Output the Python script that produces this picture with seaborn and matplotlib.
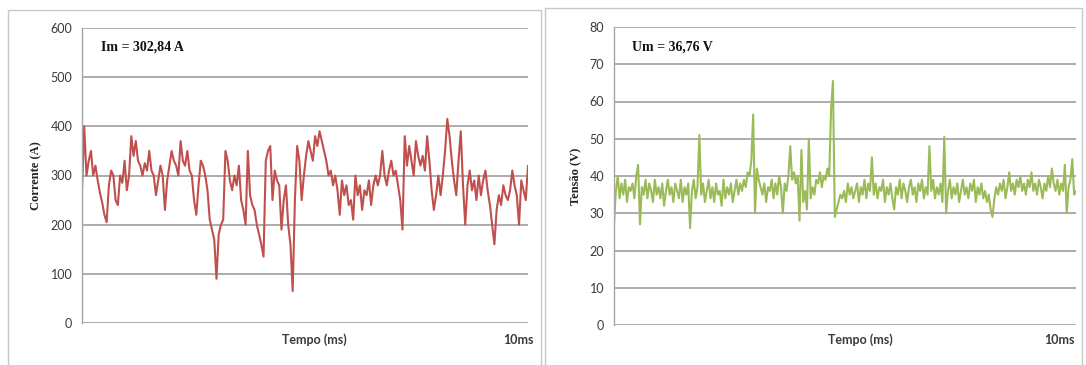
import numpy as np
import pandas as pd
import matplotlib
matplotlib.use("Agg")
import matplotlib.pyplot as plt
import seaborn as sns
from matplotlib.patches import Rectangle

# ---------------- data ----------------
corrente = [
    270, 400, 300, 330, 350, 300, 320, 290, 265, 245,
    220, 205, 280, 310, 300, 250, 240, 300, 285, 330,
    270, 300, 380, 340, 370, 330, 320, 300, 325, 310,
    350, 310, 300, 260, 290, 320, 300, 230, 290, 320,
    350, 330, 320, 300, 370, 330, 320, 350, 310, 300,
    250, 220, 280, 330, 320, 300, 270, 210, 190, 170,
    90, 180, 200, 210, 350, 330, 290, 270, 300, 280,
    320, 250, 230, 200, 350, 260, 240, 230, 200, 180,
    160, 135, 330, 350, 360, 250, 310, 290, 280, 190,
    250, 280, 200, 160, 65, 250, 360, 330, 250, 300,
    340, 370, 350, 330, 380, 360, 390, 370, 350, 330,
    300, 310, 280, 300, 270, 220, 290, 260, 280, 240,
    250, 210, 300, 260, 280, 230, 270, 260, 290, 240,
    280, 300, 280, 300, 350, 300, 280, 310, 330, 300,
    310, 280, 250, 190, 380, 320, 360, 330, 300, 370,
    340, 320, 340, 310, 380, 330, 270, 230, 260, 300,
    260, 300, 350, 415, 380, 330, 290, 260, 330, 390,
    280, 200, 280, 310, 270, 290, 250, 300, 260, 290,
    310, 270, 240, 200, 160, 230, 260, 240, 280, 260,
    250, 270, 310, 280, 260, 200, 290, 270, 250, 320,
]

tensao = [
    27, 36, 40, 34, 38, 35, 39, 33, 37, 36,
    38, 34, 40, 43, 27, 37, 35, 39, 34, 38,
    36, 33, 39, 35, 37, 34, 38, 32, 36, 39,
    35, 37, 33, 38, 36, 34, 39, 33, 37, 35,
    38, 26, 36, 39, 34, 37, 51, 35, 38, 33,
    36, 39, 34, 37, 33, 38, 35, 36, 32, 39,
    34, 37, 35, 38, 33, 36, 39, 35, 38, 36,
    39, 37, 41, 40, 44, 56.5, 30, 42, 39, 37,
    35, 38, 33, 37, 36, 39, 34, 38, 35, 40,
    37, 30, 38, 36, 40, 48, 39, 41, 38, 40,
    28, 47, 33, 36, 31, 50, 34, 37, 35, 39,
    38, 41, 37, 40, 39, 42, 40, 58, 65.5, 29,
    31, 33, 35, 34, 36, 33, 38, 35, 37, 34,
    36, 38, 33, 37, 35, 39, 34, 38, 36, 45,
    35, 38, 34, 37, 36, 39, 33, 37, 35, 38,
    34, 31, 37, 35, 39, 34, 38, 36, 33, 37,
    39, 35, 37, 33, 38, 36, 39, 34, 37, 35,
    48, 36, 39, 34, 37, 35, 38, 33, 50.5, 30,
    36, 39, 34, 37, 35, 38, 33, 36, 39, 35,
    37, 34, 38, 36, 39, 33, 37, 35, 38, 34,
    36, 33, 35, 31, 29, 34, 37, 35, 38, 36,
    39, 34, 37, 41, 36, 38, 35, 39, 37, 40,
    36, 38, 35, 39, 37, 41, 36, 38, 35, 39,
    37, 34, 38, 36, 40, 37, 42, 38, 36, 39,
    35, 38, 36, 43, 30, 37, 39, 44.5, 35, 36,
]

t_max_ms = 10
yticks_i = [0, 100, 200, 300, 400, 500, 600]
yticks_u = [0, 10, 20, 30, 40, 50, 60, 70, 80]
label_i = "Im = 302,84 A"
label_u = "Um = 36,76 V"

df_i = pd.DataFrame({"t": np.linspace(0, t_max_ms, len(corrente)), "v": corrente})
df_u = pd.DataFrame({"t": np.linspace(0, t_max_ms, len(tensao)), "v": tensao})

# ---------------- figure ----------------
sns.set_style("white")
plt.rcParams["font.family"] = ["Lato", "DejaVu Sans"]

W, H = 1086, 365
fig = plt.figure(figsize=(W / 100, H / 100), dpi=100)

# panel frames
for (x0, x1, y0) in [(8, 541, 10), (545, 1082, 8)]:
    fig.patches.append(Rectangle((x0 / W, -0.05), (x1 - x0) / W, 1 - y0 / H + 0.05,
                                 transform=fig.transFigure, fill=False,
                                 edgecolor="#c8c8c8", linewidth=1.0))

grid_c = "#a6a6a6"
txt_c = "#3a3a3a"


def setup(ax, df, color, yticks, ylabel, note, note_x, xlab_x, tenms_x):
    sns.lineplot(data=df, x="t", y="v", ax=ax, color=color, linewidth=1.5)
    ax.set_xlim(0, t_max_ms)
    ax.set_ylim(yticks[0], yticks[-1])
    ax.set_yticks(yticks)
    ax.set_xticks([])
    ax.grid(False)
    for y in yticks:
        ax.axhline(y, color=grid_c, linewidth=1.3, zorder=0)
    for s in ["top", "right", "bottom"]:
        ax.spines[s].set_visible(False)
    ax.spines["left"].set_color(grid_c)
    ax.spines["left"].set_linewidth(1.0)
    ax.tick_params(axis="y", length=4, width=1.0, color=grid_c,
                   labelsize=9, labelcolor=txt_c, pad=3)
    ax.set_xlabel("")
    ax.set_ylabel(ylabel, family="Liberation Serif", fontweight="bold",
                  fontsize=9, color="#222222", labelpad=6)
    fig.text(note_x / W, 1 - 47 / H, note, family="Liberation Serif",
             fontweight="bold", fontsize=10, color="#111111",
             ha="left", va="center")
    fig.text(xlab_x / W, 1 - 340 / H, "Tempo (ms)", fontsize=9,
             fontweight="bold", color=txt_c, ha="center", va="center")
    fig.text(tenms_x / W, 1 - 340 / H, "10ms", fontsize=9,
             fontweight="bold", color=txt_c, ha="center", va="center")


ax1 = fig.add_axes([82 / W, 1 - 323 / H, (528 - 82) / W, (323 - 28) / H])
setup(ax1, df_i, "#c0504d", yticks_i, "Corrente (A)", label_i, 101, 314, 518)

ax2 = fig.add_axes([614 / W, 1 - 325 / H, (1076 - 614) / W, (325 - 27) / H])
setup(ax2, df_u, "#9bbb59", yticks_u, "Tensão (V)", label_u, 632, 860, 1059)

fig.savefig("out.png", dpi=100)
